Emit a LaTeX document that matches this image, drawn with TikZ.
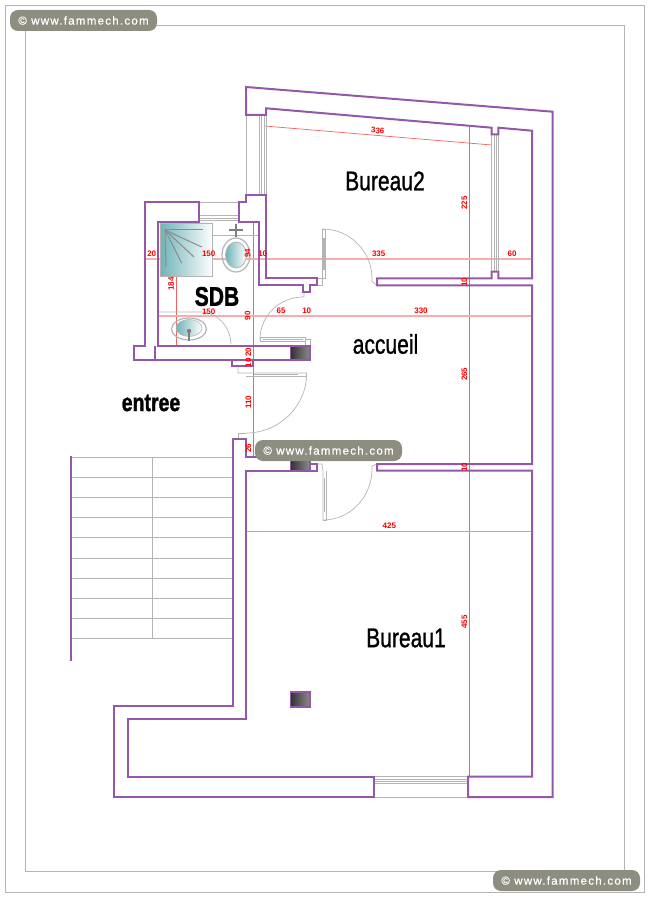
\documentclass[tikz,border=0pt]{standalone}
\usepackage{fontspec}
\setmainfont{Liberation Sans}
\newfontfamily\badgefont[LetterSpace=11,FakeBold=0.7]{Liberation Sans}
\newfontfamily\roomfont[FakeBold=1.2]{Liberation Sans}
\newfontfamily\heavyfont[FakeBold=1.5]{Liberation Sans Bold}
\definecolor{wallcol}{HTML}{9558A8}
\definecolor{dimcol}{HTML}{F04848}
\definecolor{badgecol}{HTML}{8E8E80}
\definecolor{fixcol}{HTML}{B4B4B4}
\definecolor{basin}{HTML}{6FB4B8}
\tikzset{
    wall/.style={draw=wallcol,line width=2pt,line join=miter},
    fine/.style={draw=fixcol,line width=0.7pt},
    leaf/.style={draw=fixcol,line width=1.4pt},
    dimthin/.style={draw=dimcol!85,line width=0.7pt},
    dimwide/.style={draw=dimcol!45,line width=1.5pt},
    dimlabel/.style={text=red,font=\fontsize{8}{8}\selectfont\bfseries,inner sep=0pt},
    roomlabel/.style={text=black,font=\fontsize{27}{27}\selectfont\roomfont,xscale=0.78,transform shape,inner sep=0pt},
    badge/.style={fill=badgecol,rounded corners=8pt,text=white,minimum width=147pt,minimum height=21pt,inner sep=0pt,font=\fontsize{11.5}{11.5}\selectfont\badgefont},
    heat/.style={left color=black!80,right color=black!45,draw=wallcol,line width=1.4pt},
}
\begin{document}
\begin{tikzpicture}[x=1pt,y=-1pt]
    \useasboundingbox (0,0) rectangle (650,901);
    \draw[fine,line width=0.8pt] (5.5,5.5) rectangle (644.5,892);
    \draw[fine,line width=0.8pt] (25.5,25.5) rectangle (624.5,871);

    \draw[dimthin] (469,126) -- (469,777);
    \draw[dimthin] (253.5,222) -- (253.5,456);
    \draw[dimthin] (176.5,222) -- (176.5,346);
    \draw[dimthin] (264.5,126) -- (491.7,145);
    \draw[dimthin,draw=dimcol!60] (246,531) -- (532,531);
    \draw[dimwide] (145,259) -- (532,259);
    \draw[dimwide] (158,316) -- (532,316);

    \fill[left color=basin,right color=white] (160,223) rectangle (212.7,276);
    \draw[fine] (160,223) rectangle (212.7,276);
    \foreach \xend/\yend in {202.7/230,201.7/247,194/257,181.7/263,166/267}
        \draw[leaf,draw=black!45,line width=1pt] (165,230) -- (\xend,\yend);

    \draw[fine,line width=1.2pt] (212,235.5) -- (259,235.5);
    \draw[fine,draw=black!50,line width=1.2pt] (236,224) -- (236,237);
    \draw[fine,draw=black!50,line width=1.2pt] (229,230) -- (243,230);
    \draw[fine,line width=1.2pt] (236,255) ellipse (14 and 17);
    \shade[left color=basin,right color=white,draw=fixcol,line width=0.8pt] (236,255) ellipse (10.5 and 13);

    \draw[fine,line width=1.2pt] (189,329) ellipse (17.5 and 11);
    \shade[left color=basin,right color=white,draw=fixcol,line width=0.6pt] (189,328) ellipse (13 and 8.5);
    \fill[fixcol!70!black] (189,331) circle (2.2);
    \draw[fixcol!70!black,line width=2pt] (189,332) -- (189,341);

    \draw[fine] (158,312) -- (200,312) arc (-90:-2:31 and 33);

    \foreach \ystep in {457.3,477.3,497.3,517.3,537.7,558,578.3,598.3,618.3,638.3}
        \draw[fine] (71,\ystep) -- (232.5,\ystep);
    \draw[fine] (152.3,457.3) -- (152.3,638.3);

    \foreach \xpane in {246,259.3,261.7,264,266}
        \draw[fine] (\xpane,115) -- (\xpane,195);
    \foreach \xpane in {491.7,494,496.2,498.3}
        \draw[fine] (\xpane,134.3) -- (\xpane,271.7);
    \foreach \ypane in {202.3,215,218.3,220.7}
        \draw[fine] (199.3,\ypane) -- (239,\ypane);
    \foreach \ypane in {776.7,779,781.3,783.3,797}
        \draw[fine] (374.3,\ypane) -- (468,\ypane);

    \draw[fine] (322.5,278) -- (322.5,229) arc (-90:0:49.5) -- ++(0,3) -- (377,285.3);
    \draw[leaf] (324,238) -- (324,270);
    \draw[fine] (325.5,229) -- (322.5,229);
    \draw[fine] (325.5,229) -- (325.5,278) -- (322.5,278);
    \draw[fine] (317,278.3) -- (322,278.3) -- (322,285) -- (317,285);

    \draw[fine] (323,470.7) -- (323,520) arc (90:0:49 and 51) -- ++(0,-3) -- (377,464);
    \draw[leaf] (324.5,478) -- (324.5,512);
    \draw[fine] (326,470.7) -- (326,520) -- (323,520);
    \draw[fine] (316.7,464) -- (322,464) -- (323,470.7);

    \draw[fine] (246,366) -- (238,366) -- (238,373) -- (246,373) -- (306.7,373) arc (0:90:60.7 and 60);
    \draw[leaf] (254,374.7) -- (298,374.7);
    \draw[fine] (246,376) -- (306.7,376) -- (306.7,373);
    \draw[fine] (246,433) -- (238,433) -- (238,439.3);

    \draw[fine] (304,291.7) -- (304,296.5) -- (303,297) arc (-90:-180:43 and 42.5);
    \draw[fine] (260,337.5) rectangle (305,341);
    \draw[leaf] (263,339.2) -- (303,339.2);
    \draw[fine] (305,345.7) -- (305,339) -- (310,339) -- (310,345.7);

    \draw[wall] (246,87) -- (552.7,111.7) -- (552.7,797) -- (468,797) -- (468,776.7) -- (532,776.7)
        -- (532,470.7) -- (377,470.7) -- (377,464) -- (532,464) -- (532,285.3) -- (377,285.3) -- (377,278.3)
        -- (491.7,278.3) -- (491.7,271.7) -- (498.3,271.7) -- (498.3,278.3) -- (532,278.3) -- (532,130.7)
        -- (498.3,127.7) -- (498.3,134.3) -- (491.7,134.3) -- (491.7,127.7) -- (266,108.3) -- (266,115)
        -- (246,115) -- cycle;
    \draw[wall] (246,195) -- (266,195) -- (266,278.3) -- (317,278.3) -- (317,285) -- (310,285) -- (310,291.7)
        -- (303.3,291.7) -- (303.3,285) -- (259.3,285) -- (259.3,222.3) -- (239,222.3) -- (239,202.3)
        -- (246,202.3) -- cycle;
    \draw[wall] (199.3,202.3) -- (145,202.3) -- (145,345.7) -- (134.3,345.7) -- (134.3,360) -- (310,360)
        -- (310,345.7) -- (158.3,345.7) -- (158.3,222.3) -- (199.3,222.3) -- cycle;
    \draw[wall] (155,345.7) -- (155,360);
    \draw[wall] (231.7,360) -- (231.7,365.7) -- (253.3,365.7) -- (253.3,360);
    \draw[wall] (232.7,706) -- (232.7,439.3) -- (246,439.3) -- (246,456.7) -- (310,456.7) -- (310,464)
        -- (316.7,464) -- (316.7,470.7) -- (246,470.7) -- (246,719.3) -- (127.7,719.3) -- (127.7,776.7)
        -- (374.3,776.7) -- (374.3,797) -- (114,797) -- (114,706) -- cycle;
    \draw[wall] (71,456) -- (71,661);

    \shade[heat] (290.5,346.5) rectangle (310,360);
    \shade[heat] (290.5,458) rectangle (310,470.7);
    \shade[heat] (290.5,692) rectangle (310,707);

    \node[dimlabel,rotate=-4.7] (dimA) at (377.7,130.7) {336};
    \node[dimlabel,rotate=90] (dimB) at (464.3,203) {225};
    \node[dimlabel] (dimC) at (378.7,253.7) {335};
    \node[dimlabel] (dimD) at (512,253.7) {60};
    \node[dimlabel,rotate=90] (dimE) at (464.3,282) {10};
    \node[dimlabel] (dimF) at (262.7,253.7) {10};
    \node[dimlabel,rotate=90] (dimG) at (247.7,253.3) {94};
    \node[dimlabel] (dimH) at (151.7,254) {20};
    \node[dimlabel] (dimI) at (208.7,254) {150};
    \node[dimlabel,rotate=90] (dimJ) at (171,284) {184};
    \node[dimlabel] (dimK) at (208.7,312) {150};
    \node[dimlabel,rotate=90] (dimL) at (247.7,315.7) {90};
    \node[dimlabel] (dimM) at (281,310.7) {65};
    \node[dimlabel] (dimN) at (306.7,310.7) {10};
    \node[dimlabel] (dimO) at (421,310.7) {330};
    \node[dimlabel,rotate=90] (dimP) at (248.3,352.3) {20};
    \node[dimlabel,rotate=90] (dimQ) at (248.3,362.7) {10};
    \node[dimlabel,rotate=90] (dimR) at (248.3,402.3) {110};
    \node[dimlabel,rotate=90] (dimS) at (248.3,448.3) {26};
    \node[dimlabel,rotate=90] (dimT) at (464.3,374.3) {265};
    \node[dimlabel,rotate=90] (dimU) at (464.3,467.3) {10};
    \node[dimlabel] (dimV) at (389.3,525.7) {425};
    \node[dimlabel,rotate=90] (dimW) at (464.3,622) {455};

    \node[roomlabel] (bureauB) at (385,181) {Bureau2};
    \node[roomlabel] (bureauA) at (406,638) {Bureau1};
    \node[roomlabel] (accueil) at (385.5,344) {accueil};
    \node[roomlabel,font=\fontsize{27}{27}\selectfont\heavyfont] (sdb) at (217,296.5) {SDB};
    \node[roomlabel,font=\fontsize{25}{25}\selectfont\heavyfont] (entree) at (151,403) {entree};

    \node[badge] (badgeA) at (83.5,20.5) {© www.fammech.com};
    \node[badge] (badgeB) at (328.5,450.5) {© www.fammech.com};
    \node[badge] (badgeC) at (566.5,880.5) {© www.fammech.com};
\end{tikzpicture}
\end{document}
